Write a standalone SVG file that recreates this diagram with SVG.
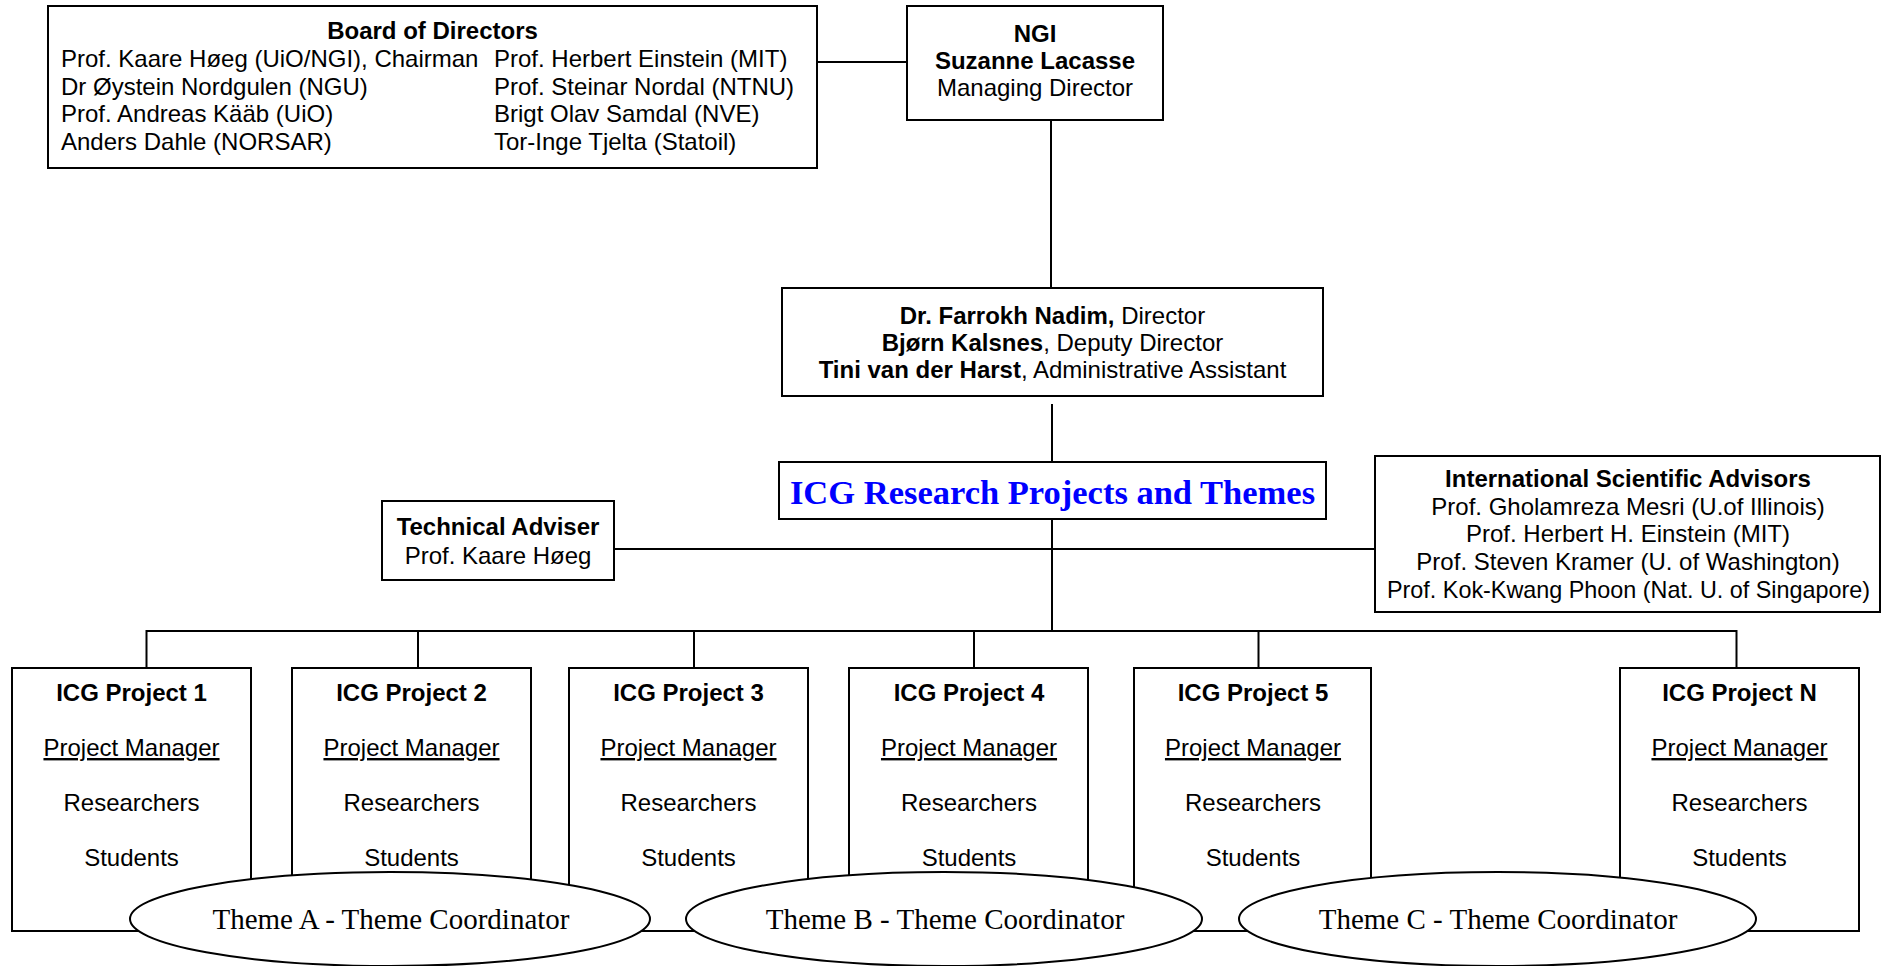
<svg xmlns="http://www.w3.org/2000/svg" width="1883" height="966" viewBox="0 0 1883 966">
<style>
.box{fill:#fff;stroke:#000;stroke-width:2}
.ell{fill:#fff;stroke:#000;stroke-width:2}
.ln{stroke:#000;stroke-width:2;fill:none}
text{font-family:"Liberation Sans",Arial,sans-serif;font-size:24px;fill:#000}
.b{font-weight:bold}
.c{text-anchor:middle}
.th{font-family:"Liberation Serif","Times New Roman",serif;font-size:29px}
.title{font-family:"Liberation Serif","Times New Roman",serif;font-size:34.5px;font-weight:bold;fill:#0000ff}
.u{text-decoration:underline}
</style>
<rect width="1883" height="966" fill="#fff"/>
<g id="connectors">
<line class="ln" x1="817" y1="62" x2="907" y2="62"/>
<line class="ln" x1="1051" y1="120" x2="1051" y2="288"/>
<line class="ln" x1="1052" y1="404" x2="1052" y2="462"/>
<line class="ln" x1="1052" y1="519" x2="1052" y2="631"/>
<line class="ln" x1="614" y1="549" x2="1375" y2="549"/>
<line class="ln" x1="146" y1="631" x2="1737" y2="631"/>
<line class="ln" x1="146.5" y1="630" x2="146.5" y2="668"/>
<line class="ln" x1="418" y1="630" x2="418" y2="668"/>
<line class="ln" x1="694" y1="630" x2="694" y2="668"/>
<line class="ln" x1="974" y1="630" x2="974" y2="668"/>
<line class="ln" x1="1258.5" y1="630" x2="1258.5" y2="668"/>
<line class="ln" x1="1736.5" y1="630" x2="1736.5" y2="668"/>
</g>
<g id="board">
<rect class="box" x="48" y="6" width="769" height="162"/>
<text class="b c" x="432.5" y="39">Board of Directors</text>
<text x="61" y="67">Prof. Kaare Høeg (UiO/NGI), Chairman</text>
<text x="61" y="94.5">Dr Øystein Nordgulen (NGU)</text>
<text x="61" y="122">Prof. Andreas Kääb (UiO)</text>
<text x="61" y="149.5">Anders Dahle (NORSAR)</text>
<text x="494" y="67">Prof. Herbert Einstein (MIT)</text>
<text x="494" y="94.5">Prof. Steinar Nordal (NTNU)</text>
<text x="494" y="122">Brigt Olav Samdal (NVE)</text>
<text x="494" y="149.5">Tor-Inge Tjelta (Statoil)</text>
</g>
<g id="ngi">
<rect class="box" x="907" y="6" width="256" height="114"/>
<text class="b c" x="1035" y="42">NGI</text>
<text class="b c" x="1035" y="69">Suzanne Lacasse</text>
<text class="c" x="1035" y="96">Managing Director</text>
</g>
<g id="director">
<rect class="box" x="782" y="288" width="541" height="108"/>
<text class="c" x="1052.5" y="324"><tspan class="b">Dr. Farrokh Nadim,</tspan> Director</text>
<text class="c" x="1052.5" y="351"><tspan class="b">Bjørn Kalsnes</tspan>, Deputy Director</text>
<text class="c" x="1052.5" y="378"><tspan class="b">Tini van der Harst</tspan>, Administrative Assistant</text>
</g>
<g id="icg">
<rect class="box" x="779" y="462" width="547" height="57"/>
<text class="title c" x="1052.5" y="504">ICG Research Projects and Themes</text>
</g>
<g id="technical">
<rect class="box" x="382" y="501" width="232" height="79"/>
<text class="b c" x="498" y="535">Technical Adviser</text>
<text class="c" x="498" y="564">Prof. Kaare Høeg</text>
</g>
<g id="advisors">
<rect class="box" x="1375" y="456" width="505" height="156"/>
<text class="b c" x="1628" y="487">International Scientific Advisors</text>
<text class="c" x="1628" y="515">Prof. Gholamreza Mesri (U.of Illinois)</text>
<text class="c" x="1628" y="542">Prof. Herbert H. Einstein (MIT)</text>
<text class="c" x="1628" y="570">Prof. Steven Kramer (U. of Washington)</text>
<text class="c" x="1628.5" y="598" textLength="483" lengthAdjust="spacingAndGlyphs">Prof. Kok-Kwang Phoon (Nat. U. of Singapore)</text>
</g>
<g id="p1">
<rect class="box" x="12" y="668" width="239" height="263"/>
<text class="b c" x="131.5" y="701">ICG Project 1</text>
<text class="c u" x="131.5" y="756">Project Manager</text>
<text class="c" x="131.5" y="811">Researchers</text>
<text class="c" x="131.5" y="866">Students</text>
</g>
<g id="p2">
<rect class="box" x="292" y="668" width="239" height="263"/>
<text class="b c" x="411.5" y="701">ICG Project 2</text>
<text class="c u" x="411.5" y="756">Project Manager</text>
<text class="c" x="411.5" y="811">Researchers</text>
<text class="c" x="411.5" y="866">Students</text>
</g>
<g id="p3">
<rect class="box" x="569" y="668" width="239" height="263"/>
<text class="b c" x="688.5" y="701">ICG Project 3</text>
<text class="c u" x="688.5" y="756">Project Manager</text>
<text class="c" x="688.5" y="811">Researchers</text>
<text class="c" x="688.5" y="866">Students</text>
</g>
<g id="p4">
<rect class="box" x="849" y="668" width="239" height="263"/>
<text class="b c" x="969" y="701">ICG Project 4</text>
<text class="c u" x="969" y="756">Project Manager</text>
<text class="c" x="969" y="811">Researchers</text>
<text class="c" x="969" y="866">Students</text>
</g>
<g id="p5">
<rect class="box" x="1134" y="668" width="237" height="263"/>
<text class="b c" x="1253" y="701">ICG Project 5</text>
<text class="c u" x="1253" y="756">Project Manager</text>
<text class="c" x="1253" y="811">Researchers</text>
<text class="c" x="1253" y="866">Students</text>
</g>
<g id="pN">
<rect class="box" x="1620" y="668" width="239" height="263"/>
<text class="b c" x="1739.5" y="701">ICG Project N</text>
<text class="c u" x="1739.5" y="756">Project Manager</text>
<text class="c" x="1739.5" y="811">Researchers</text>
<text class="c" x="1739.5" y="866">Students</text>
</g>
<g id="themeA">
<ellipse class="ell" cx="390" cy="919" rx="260" ry="47"/>
<text class="th c" x="391" y="929">Theme A - Theme Coordinator</text>
</g>
<g id="themeB">
<ellipse class="ell" cx="944" cy="919" rx="258" ry="47"/>
<text class="th c" x="945" y="929">Theme B - Theme Coordinator</text>
</g>
<g id="themeC">
<ellipse class="ell" cx="1497.5" cy="919" rx="258.5" ry="47"/>
<text class="th c" x="1498" y="929">Theme C - Theme Coordinator</text>
</g>
</svg>
